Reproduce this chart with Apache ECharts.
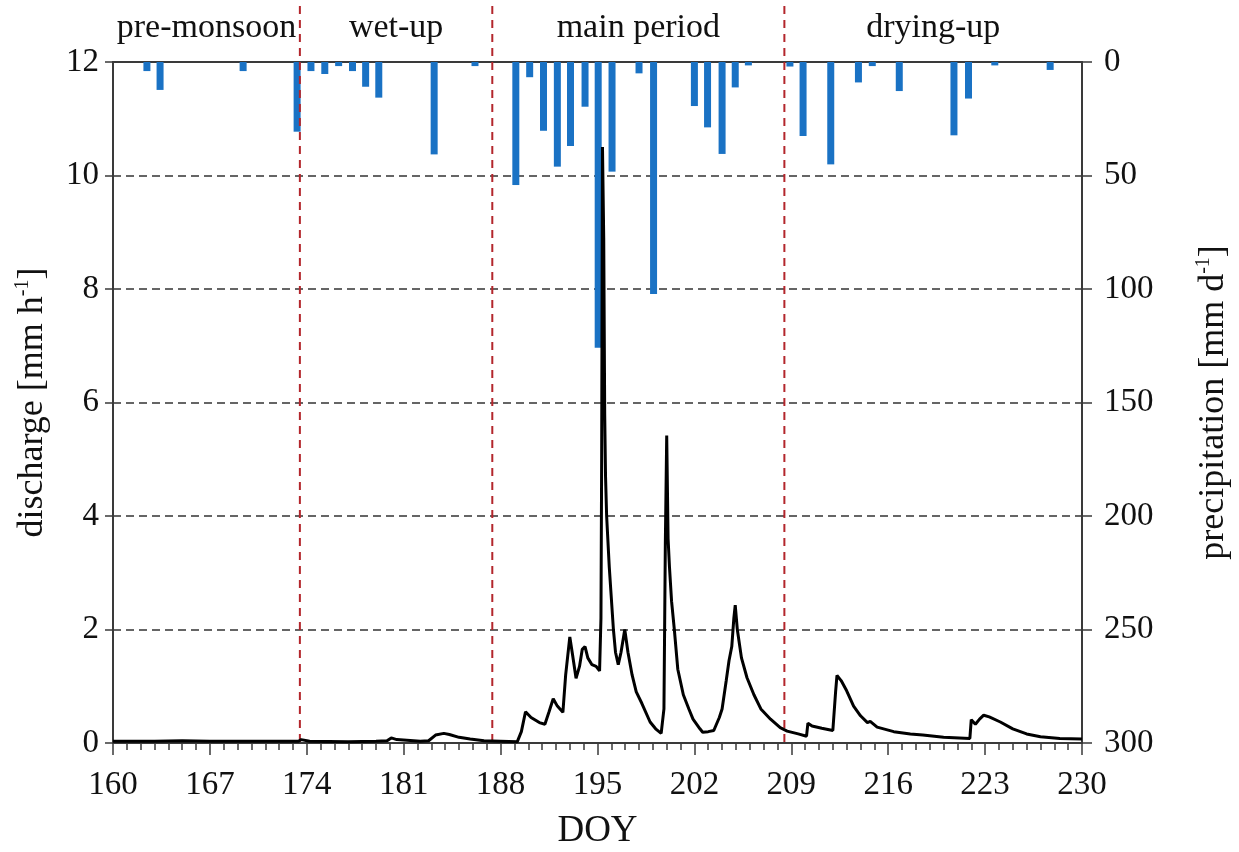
<!DOCTYPE html>
<html>
<head>
<meta charset="utf-8">
<script src="https://cdn.jsdelivr.net/npm/echarts@6/dist/echarts.min.js"></script>
<style>
html, body { margin: 0; padding: 0; background: #fff; }
#main { width: 1239px; height: 852px; }
</style>
</head>
<body>
<div id="main"></div>
<script>
var fontFamily = '"Liberation Serif", "DejaVu Serif", serif';
var axisColor = '#3a3a3a';
var textColor = '#111';
var barColor = '#1a72c4';
var sepColor = '#b3262c';

// discharge series: day of year and discharge [mm h-1]
var qDoy = [160, 163, 165, 167, 170, 173.4, 173.6, 174.2, 177, 179, 179.8, 180.1, 180.5, 182.2, 182.8,
  183.3, 183.9, 184.3, 185, 185.8, 186.8, 188, 189.2, 189.5, 189.8, 190.2, 190.8, 191.2, 191.5, 191.8,
  192.1, 192.5, 192.7, 193.0, 193.2, 193.45, 193.7, 193.9, 194.1, 194.3, 194.6, 194.9, 195.15, 195.25,
  195.3, 195.36, 195.45, 195.52, 195.58, 195.66, 195.85, 196.15, 196.3, 196.5, 196.7, 196.97, 197.2,
  197.5, 197.8, 198.2, 198.8, 199.2, 199.6, 199.8, 199.9, 200.0, 200.1, 200.2, 200.35, 200.55, 200.8,
  201.2, 201.6, 201.9, 202.4, 202.6, 203.0, 203.4, 203.8, 204.0, 204.3, 204.5, 204.7, 204.85, 204.95,
  205.1, 205.4, 205.8, 206.3, 206.8, 207.5, 208.2, 208.7, 209.5, 210.1, 210.2, 210.5, 211.2, 212.0,
  212.2, 212.3, 212.6, 213.0, 213.5, 214.0, 214.5, 214.7, 215.2, 216.4, 217.6, 218.5, 220.0, 221.9,
  222.0, 222.3, 222.6, 222.9, 223.3, 224.1, 225.0, 226.0, 227.0, 228.4, 230];
var qVal = [0.03, 0.03, 0.04, 0.03, 0.03, 0.03, 0.06, 0.03, 0.02, 0.03, 0.04, 0.09, 0.06, 0.03, 0.04,
  0.14, 0.17, 0.15, 0.10, 0.07, 0.04, 0.03, 0.02, 0.20, 0.55, 0.45, 0.36, 0.33, 0.55, 0.78,
  0.65, 0.54, 1.20, 1.87, 1.55, 1.14, 1.35, 1.65, 1.70, 1.50, 1.38, 1.35, 1.27, 2.2,
  5.0, 10.5, 8.9, 5.8, 4.7, 4.0, 3.1, 2.0, 1.6, 1.38, 1.6, 2.0, 1.6,
  1.2, 0.9, 0.7, 0.37, 0.25, 0.17, 0.6, 3.5, 5.42, 3.6, 3.1, 2.5, 2.0, 1.3,
  0.85, 0.6, 0.42, 0.25, 0.19, 0.2, 0.22, 0.45, 0.6, 1.1, 1.45, 1.7, 2.2, 2.43,
  2.0, 1.5, 1.15, 0.85, 0.6, 0.42, 0.27, 0.21, 0.16, 0.12, 0.35, 0.30, 0.26, 0.22,
  0.9, 1.19, 1.1, 0.92, 0.65, 0.48, 0.36, 0.38, 0.28, 0.20, 0.16, 0.14, 0.10, 0.08,
  0.41, 0.33, 0.42, 0.49, 0.46, 0.37, 0.25, 0.16, 0.11, 0.08, 0.07];

// daily precipitation: bar position (DOY) and amount [mm d-1]
var rainDoy = [162.45, 163.4, 169.4, 173.3, 174.3, 175.3, 176.3, 177.3, 178.25, 179.2, 183.2, 186.15,
  189.1, 190.1, 191.1, 192.1, 193.05, 194.1, 195.05, 196.05, 198.0, 199.05, 202.0, 202.95, 204.0,
  204.95, 205.9, 208.9, 209.85, 211.85, 213.85, 214.85, 216.8, 220.75, 221.8, 223.7, 227.7];
var rainVal = [4, 12.3, 4, 30.7, 4, 5.3, 1.8, 4, 10.9, 15.7, 40.7, 1.8,
  54.2, 6.7, 30.3, 46.1, 37, 19.7, 125.9, 48.3, 5, 102.2, 19.4, 28.8, 40.5,
  11.2, 1.5, 2, 32.6, 45.1, 9, 1.8, 12.8, 32.3, 16.1, 1.5, 3.5];

// period boundaries (DOY) and names
var periodBounds = [173.5, 187.4, 208.5];
var periodNames = ['pre-monsoon', 'wet-up', 'main period', 'drying-up'];

var xMin = 160, xMax = 230;

var lineData = qDoy.map(function (d, i) { return [d, qVal[i]]; });
var barData = rainDoy.map(function (d, i) { return [d, rainVal[i]]; });

var chart = echarts.init(document.getElementById('main'));

var labelStyle = { fontFamily: fontFamily, fontSize: 33, color: textColor };
var nameRich = {
  sup: { fontFamily: fontFamily, fontSize: 20, color: textColor, verticalAlign: 'top', lineHeight: 40 }
};

var option = {
  animation: false,
  backgroundColor: '#fff',
  grid: { left: 113, right: 157, top: 62, bottom: 109, outerBoundsMode: 'none', containLabel: false },
  xAxis: [{
    type: 'value',
    min: xMin,
    max: xMax,
    interval: 7,
    position: 'bottom',
    axisLine: { show: true, lineStyle: { color: axisColor, width: 2 } },
    axisTick: { show: true, length: 12, lineStyle: { color: axisColor, width: 1.5 } },
    minorTick: { show: true, splitNumber: 7, length: 7, lineStyle: { color: axisColor, width: 1.5 } },
    splitLine: { show: false },
    axisLabel: Object.assign({ margin: 26 }, labelStyle),
    name: 'DOY',
    nameLocation: 'middle',
    nameGap: 70,
    nameTextStyle: { fontFamily: fontFamily, fontSize: 37, color: textColor }
  }, {
    type: 'value',
    min: xMin,
    max: xMax,
    position: 'top',
    axisLine: { show: true, lineStyle: { color: axisColor, width: 2 } },
    axisTick: { show: false },
    axisLabel: { show: false },
    splitLine: { show: false }
  }],
  yAxis: [{
    type: 'value',
    min: 0,
    max: 12,
    interval: 2,
    position: 'left',
    axisLine: { show: true, lineStyle: { color: axisColor, width: 2 } },
    axisTick: { show: true, length: 8, lineStyle: { color: axisColor, width: 1.5 } },
    splitLine: { show: true, lineStyle: { color: '#333', width: 1.5, type: [8, 5] } },
    axisLabel: Object.assign({ margin: 14 }, labelStyle),
    name: 'discharge [mm h{sup|-1}]',
    nameLocation: 'middle',
    nameRotate: 90,
    nameGap: 60,
    nameTextStyle: { fontFamily: fontFamily, fontSize: 36, color: textColor, rich: nameRich }
  }, {
    type: 'value',
    min: 0,
    max: 300,
    interval: 50,
    inverse: true,
    position: 'right',
    axisLine: { show: true, lineStyle: { color: axisColor, width: 2 } },
    axisTick: { show: true, length: 10, lineStyle: { color: axisColor, width: 1.5 } },
    splitLine: { show: false },
    axisLabel: Object.assign({ margin: 22 }, labelStyle),
    name: 'precipitation [mm d{sup|-1}]',
    nameLocation: 'middle',
    nameRotate: 90,
    nameGap: 112,
    nameTextStyle: { fontFamily: fontFamily, fontSize: 36, color: textColor, rich: nameRich }
  }],
  series: [{
    name: 'precipitation',
    type: 'bar',
    xAxisIndex: 1,
    yAxisIndex: 1,
    data: barData,
    barWidth: 7,
    itemStyle: { color: barColor },
    z: 2
  }, {
    name: 'discharge',
    type: 'line',
    xAxisIndex: 0,
    yAxisIndex: 0,
    data: lineData,
    showSymbol: false,
    lineStyle: { color: '#000', width: 3 },
    z: 4
  }]
};

chart.setOption(option);

// period separators and titles, placed through the x axis scale
var yBottom = chart.convertToPixel({ yAxisIndex: 0 }, 0);
var edges = [xMin].concat(periodBounds, [xMax]);
var graphics = [];
periodBounds.forEach(function (b) {
  var px = chart.convertToPixel({ xAxisIndex: 0 }, b);
  graphics.push({
    type: 'line',
    z: 3,
    shape: { x1: px, y1: 6, x2: px, y2: yBottom },
    style: { stroke: sepColor, lineWidth: 2, lineDash: [8, 6] }
  });
});
periodNames.forEach(function (n, i) {
  var cx = (chart.convertToPixel({ xAxisIndex: 0 }, edges[i]) + chart.convertToPixel({ xAxisIndex: 0 }, edges[i + 1])) / 2;
  graphics.push({
    type: 'text',
    x: cx,
    y: 28,
    style: { text: n, fontFamily: fontFamily, fontSize: 34, fill: textColor, align: 'center', verticalAlign: 'middle' }
  });
});
chart.setOption({ graphic: graphics });
</script>
</body>
</html>
